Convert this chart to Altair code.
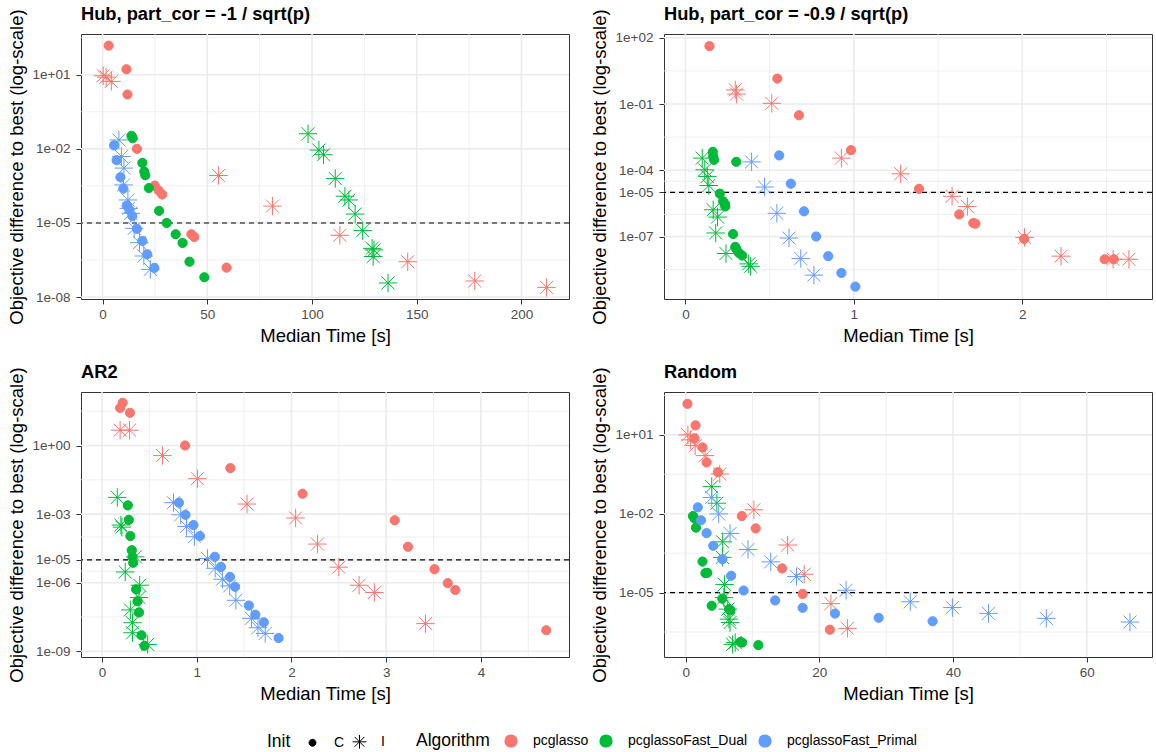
import altair as alt
import pandas as pd

FONT = "Liberation Sans"
ALGORITHMS = ["pcglasso", "pcglassoFast_Dual", "pcglassoFast_Primal"]
ALG_COLORS = ["#F8766D", "#00BA38", "#619CFF"]
INITS = ["C", "I"]
CIRCLE = "M0.5,0A0.5,0.5,0,1,1,-0.5,0A0.5,0.5,0,1,1,0.5,0Z"
ASTERISK = "M-1,0L1,0M0,-1L0,1M-0.707,-0.707L0.707,0.707M-0.707,0.707L0.707,-0.707"

# ---------------- Panel 1: Hub, part_cor = -1 / sqrt(p) ----------------
# times in seconds, objective differences as log10 values
HUB1_PC_C_T = [2.9, 11.4, 11.9, 16.4, 24.9, 26.8, 28.5, 42.4, 43.8, 59.2]
HUB1_PC_C_L = [2.18, 1.22, 0.2, -2.0, -3.49, -3.69, -3.85, -5.46, -5.57, -6.81]
HUB1_PC_I_T = [0.3, 1.7, 4.2, 55.4, 81.1, 113.3, 145.7, 177.7, 212.0]
HUB1_PC_I_L = [0.96, 0.9, 0.73, -3.08, -4.32, -5.5, -6.57, -7.35, -7.61]
HUB1_DU_C_T = [13.8, 14.4, 19.0, 19.9, 20.4, 22.1, 27.0, 30.6, 34.9, 38.2, 41.5, 48.6]
HUB1_DU_C_L = [-1.47, -1.57, -2.57, -2.92, -3.07, -3.59, -4.51, -5.0, -5.46, -5.81, -6.57, -7.2]
HUB1_DU_I_T = [98.1, 103.3, 105.5, 111.1, 115.7, 117.6, 120.6, 124.2, 128.7, 129.6, 129.2, 136.3]
HUB1_DU_I_L = [-1.39, -2.05, -2.24, -3.2, -3.92, -4.07, -4.64, -5.31, -6.03, -6.09, -6.36, -7.43]
HUB1_PR_C_T = [5.5, 6.7, 8.5, 9.9, 11.6, 12.8, 14.2, 16.4, 19.0, 21.3, 24.7]
HUB1_PR_C_L = [-1.86, -2.46, -3.15, -3.61, -4.3, -4.47, -4.72, -5.24, -5.73, -6.27, -6.82]
HUB1_PR_I_T = [7.8, 9.0, 10.2, 10.0, 12.1, 12.5, 13.5, 15.1, 17.6, 19.7, 22.8]
HUB1_PR_I_L = [-1.64, -2.31, -2.78, -3.46, -4.07, -4.41, -4.61, -5.22, -5.8, -6.34, -6.88]

# ---------------- Panel 2: Hub, part_cor = -0.9 / sqrt(p) ----------------
HUB2_PC_C_T = [0.143, 0.546, 0.674, 0.983, 1.387, 1.626, 1.709, 1.722, 2.011, 2.489, 2.543]
HUB2_PC_C_L = [1.62, 0.15, -1.51, -3.09, -4.84, -6.0, -6.39, -6.42, -7.11, -8.03, -8.03]
HUB2_PC_I_T = [0.296, 0.304, 0.513, 0.926, 1.278, 1.583, 1.674, 2.013, 2.23, 2.539, 2.633]
HUB2_PC_I_L = [-0.36, -0.55, -0.97, -3.45, -4.16, -5.18, -5.64, -7.04, -7.89, -8.03, -8.03]
HUB2_DU_C_T = [0.163, 0.165, 0.17, 0.302, 0.204, 0.224, 0.235, 0.237, 0.283, 0.296, 0.302, 0.317, 0.337]
HUB2_DU_C_L = [-3.17, -3.38, -3.53, -3.62, -5.06, -5.41, -5.53, -5.64, -6.89, -7.47, -7.56, -7.74, -7.86]
HUB2_DU_I_T = [0.1, 0.115, 0.13, 0.139, 0.165, 0.191, 0.18, 0.241, 0.376, 0.387]
HUB2_DU_I_L = [-3.45, -3.98, -4.28, -4.69, -5.79, -6.12, -6.84, -7.77, -8.24, -8.35]
HUB2_PR_C_T = [0.557, 0.626, 0.704, 0.776, 0.848, 0.926, 1.009]
HUB2_PR_C_L = [-3.33, -4.61, -5.86, -7.0, -7.89, -8.65, -9.27]
HUB2_PR_I_T = [0.393, 0.47, 0.543, 0.615, 0.685, 0.763]
HUB2_PR_I_L = [-3.62, -4.76, -5.95, -7.07, -8.0, -8.75]

# ---------------- Panel 3: AR2 ----------------
AR2_PC_C_T = [0.218, 0.191, 0.295, 0.877, 1.355, 2.117, 3.09, 3.23, 3.51, 3.65, 3.73, 4.69]
AR2_PC_C_L = [1.87, 1.64, 1.43, 0.0, -0.99, -2.11, -3.27, -4.43, -5.41, -6.02, -6.32, -8.08]
AR2_PC_I_T = [0.191, 0.291, 0.639, 1.007, 1.531, 2.044, 2.274, 2.5, 2.714, 2.875, 3.415]
AR2_PC_I_L = [0.67, 0.67, -0.44, -1.45, -2.56, -3.17, -4.31, -5.32, -6.11, -6.43, -7.79]
AR2_DU_C_T = [0.272, 0.283, 0.299, 0.314, 0.322, 0.329, 0.36, 0.375, 0.39, 0.417, 0.448]
AR2_DU_C_L = [-2.62, -3.25, -3.96, -4.58, -4.88, -5.13, -6.29, -6.81, -7.3, -8.3, -8.76]
AR2_DU_I_T = [0.161, 0.199, 0.21, 0.352, 0.245, 0.398, 0.39, 0.299, 0.322, 0.322, 0.482]
AR2_DU_I_L = [-2.27, -3.48, -3.57, -4.87, -5.53, -6.11, -6.65, -7.19, -7.75, -8.19, -8.7]
AR2_PR_C_T = [0.812, 0.881, 0.965, 1.034, 1.191, 1.256, 1.351, 1.405, 1.55, 1.619, 1.708, 1.864]
AR2_PR_C_L = [-2.5, -3.03, -3.48, -3.96, -4.87, -5.31, -5.75, -6.18, -7.0, -7.4, -7.73, -8.42]
AR2_PR_I_T = [0.754, 0.831, 0.892, 0.976, 1.114, 1.195, 1.271, 1.348, 1.413, 1.577, 1.646, 1.723]
AR2_PR_I_L = [-2.5, -3.03, -3.54, -3.99, -4.94, -5.37, -5.85, -6.14, -6.77, -7.56, -7.97, -8.22]

# ---------------- Panel 4: Random ----------------
RND_PC_C_T = [0.27, 1.48, 1.32, 2.52, 3.13, 4.83, 8.4, 10.48, 14.43, 17.5, 21.57]
RND_PC_C_L = [2.18, 1.36, 0.87, 0.52, -0.05, -0.42, -2.09, -2.56, -4.08, -5.05, -6.41]
RND_PC_I_T = [0.33, 0.71, 1.43, 2.91, 5.1, 10.2, 15.26, 17.73, 21.73, 24.2]
RND_PC_I_L = [1.0, 0.81, 0.59, 0.21, -0.49, -1.85, -3.19, -4.3, -5.42, -6.36]
RND_DU_C_T = [1.1, 1.32, 1.54, 2.52, 2.96, 3.24, 5.49, 3.9, 6.48, 6.7, 8.18, 8.45, 10.87]
RND_DU_C_L = [-2.09, -2.18, -2.53, -3.82, -4.26, -4.25, -5.23, -5.5, -5.63, -5.67, -6.88, -6.9, -7.0]
RND_DU_I_T = [3.9, 4.67, 5.54, 5.49, 5.82, 5.71, 6.31, 6.48, 6.64, 7.03, 7.41]
RND_DU_I_L = [-0.97, -1.6, -3.07, -3.66, -4.69, -5.19, -5.63, -6.01, -6.14, -6.97, -6.9]
RND_PR_C_T = [1.81, 2.3, 3.13, 4.12, 5.49, 6.81, 8.67, 13.39, 17.5, 22.34, 28.87, 36.94]
RND_PR_C_L = [-1.76, -2.25, -2.74, -3.22, -3.73, -4.36, -4.92, -5.3, -5.58, -5.8, -5.96, -6.09]
RND_PR_I_T = [3.9, 4.94, 6.64, 9.33, 12.73, 16.58, 24.0, 33.6, 39.9, 45.3, 53.95, 66.46]
RND_PR_I_L = [-1.38, -2.01, -2.75, -3.36, -3.83, -4.39, -4.91, -5.35, -5.57, -5.79, -5.98, -6.12]

# ---------------- axis breaks (log10 for y) ----------------
P1_XTICKS = [0, 50, 100, 150, 200]; P1_XMINOR = [25, 75, 125, 175]
P1_YTICKS = [1, -2, -5, -8]; P1_YMINOR = [2.5, -0.5, -3.5, -6.5]
P2_XTICKS = [0, 1, 2]; P2_XMINOR = [0.5, 1.5, 2.5]
P2_YTICKS = [2, -1, -4, -5, -7]; P2_YMINOR = [0.5, -2.5, -4.5, -6, -8.5]
P3_XTICKS = [0, 1, 2, 3, 4]; P3_XMINOR = [0.5, 1.5, 2.5, 3.5, 4.5]
P3_YTICKS = [0, -3, -5, -6, -9]; P3_YMINOR = [1.5, -1.5, -4, -5.5, -7.5]
P4_XTICKS = [0, 20, 40, 60]; P4_XMINOR = [10, 30, 50]
P4_YTICKS = [1, -2, -5]; P4_YMINOR = [2.5, -0.5, -3.5, -6.5]

P1_XDOM = [-10.3, 222.7]; P1_YDOM = [-8.08, 2.65]
P2_XDOM = [-0.127, 2.77]; P2_YDOM = [-9.83, 2.17]
P3_XDOM = [-0.222, 4.93]; P3_YDOM = [-9.25, 2.34]
P4_XDOM = [-3.24, 69.76]; P4_YDOM = [-7.45, 2.63]

THRESHOLD = 1e-5
GRID = "#EBEBEB"
W, H = 488, 265


def frame(series):
    rows = []
    for alg, init, ts, ls in series:
        for t, l in zip(ts, ls):
            rows.append({"Algorithm": alg, "Init": init, "time": t, "diff": 10 ** l})
    return pd.DataFrame(rows)


LABEL_EXPR = ("'1e' + (round(log(datum.value)/LN10) >= 0 ? '+' : '-') + "
              "(abs(round(log(datum.value)/LN10)) < 10 ? '0' : '') + abs(round(log(datum.value)/LN10))")

alg_legend = alt.Legend(
    title="Algorithm", orient="none", legendX=335, legendY=700, direction="horizontal",
    titleOrient="left", symbolType="circle", symbolSize=175, labelFontSize=14,
    titleFontSize=17.5, titleFontWeight="normal", labelOffset=15, columnPadding=10,
    titlePadding=14, symbolStrokeWidth=0, titleBaseline="middle", labelColor="black",
    titleColor="black",
)
init_legend = alt.Legend(
    title="Init", orient="none", legendX=186, legendY=700, direction="horizontal",
    titleOrient="left", symbolSize=190, labelFontSize=14, titleFontSize=17.5,
    titleFontWeight="normal", labelOffset=14, columnPadding=5, titlePadding=14,
    symbolFillColor="black", symbolStrokeColor="black", symbolStrokeWidth=1,
    titleBaseline="middle", labelColor="black", titleColor="black",
)


def panel(title, df, xdom, xt, xm, ydom, yt, ym):
    xs = alt.Scale(domain=xdom, nice=False, zero=False)
    ys = alt.Scale(type="log", domain=[10 ** ydom[0], 10 ** ydom[1]], nice=False)
    xa = alt.Axis(values=xt, title="Median Time [s]", grid=False)
    ya = alt.Axis(values=[10 ** v for v in yt], title="Objective difference to best (log-scale)",
                  grid=False, labelExpr=LABEL_EXPR)
    X = alt.X("time:Q", scale=xs, axis=xa)
    Y = alt.Y("diff:Q", scale=ys, axis=ya)

    vminor = alt.Chart(pd.DataFrame({"time": xm})).mark_rule(color=GRID, strokeWidth=0.8).encode(x=X)
    hminor = alt.Chart(pd.DataFrame({"diff": [10 ** v for v in ym]})).mark_rule(color=GRID, strokeWidth=0.8).encode(y=Y)
    vmajor = alt.Chart(pd.DataFrame({"time": xt})).mark_rule(color=GRID, strokeWidth=1.6).encode(x=X)
    hmajor = alt.Chart(pd.DataFrame({"diff": [10 ** v for v in yt]})).mark_rule(color=GRID, strokeWidth=1.6).encode(y=Y)
    dash = alt.Chart(pd.DataFrame({"diff": [THRESHOLD]})).mark_rule(
        color="black", strokeWidth=1.1, strokeDash=[5, 4]).encode(y=Y)
    pts = alt.Chart(df).mark_point(filled=False, opacity=1, strokeWidth=1, size=340).encode(
        x=X, y=Y,
        fill=alt.Fill("Algorithm:N", scale=alt.Scale(domain=ALGORITHMS, range=ALG_COLORS), legend=alg_legend),
        stroke=alt.Stroke("Algorithm:N", scale=alt.Scale(domain=ALGORITHMS, range=ALG_COLORS), legend=alg_legend),
        shape=alt.Shape("Init:N", scale=alt.Scale(domain=INITS, range=[CIRCLE, ASTERISK]), legend=init_legend),
    )
    return alt.layer(vminor, hminor, vmajor, hmajor, dash, pts).properties(
        width=W, height=H,
        title=alt.TitleParams(title, anchor="start", frame="group", fontSize=18.3, fontWeight="bold",
                              baseline="alphabetic", offset=-29.5, color="black"),
    )


df1 = frame([
    ("pcglasso", "C", HUB1_PC_C_T, HUB1_PC_C_L), ("pcglasso", "I", HUB1_PC_I_T, HUB1_PC_I_L),
    ("pcglassoFast_Dual", "C", HUB1_DU_C_T, HUB1_DU_C_L), ("pcglassoFast_Dual", "I", HUB1_DU_I_T, HUB1_DU_I_L),
    ("pcglassoFast_Primal", "C", HUB1_PR_C_T, HUB1_PR_C_L), ("pcglassoFast_Primal", "I", HUB1_PR_I_T, HUB1_PR_I_L),
])
df2 = frame([
    ("pcglasso", "C", HUB2_PC_C_T, HUB2_PC_C_L), ("pcglasso", "I", HUB2_PC_I_T, HUB2_PC_I_L),
    ("pcglassoFast_Dual", "C", HUB2_DU_C_T, HUB2_DU_C_L), ("pcglassoFast_Dual", "I", HUB2_DU_I_T, HUB2_DU_I_L),
    ("pcglassoFast_Primal", "C", HUB2_PR_C_T, HUB2_PR_C_L), ("pcglassoFast_Primal", "I", HUB2_PR_I_T, HUB2_PR_I_L),
])
df3 = frame([
    ("pcglasso", "C", AR2_PC_C_T, AR2_PC_C_L), ("pcglasso", "I", AR2_PC_I_T, AR2_PC_I_L),
    ("pcglassoFast_Dual", "C", AR2_DU_C_T, AR2_DU_C_L), ("pcglassoFast_Dual", "I", AR2_DU_I_T, AR2_DU_I_L),
    ("pcglassoFast_Primal", "C", AR2_PR_C_T, AR2_PR_C_L), ("pcglassoFast_Primal", "I", AR2_PR_I_T, AR2_PR_I_L),
])
df4 = frame([
    ("pcglasso", "C", RND_PC_C_T, RND_PC_C_L), ("pcglasso", "I", RND_PC_I_T, RND_PC_I_L),
    ("pcglassoFast_Dual", "C", RND_DU_C_T, RND_DU_C_L), ("pcglassoFast_Dual", "I", RND_DU_I_T, RND_DU_I_L),
    ("pcglassoFast_Primal", "C", RND_PR_C_T, RND_PR_C_L), ("pcglassoFast_Primal", "I", RND_PR_I_T, RND_PR_I_L),
])

p1 = panel("Hub, part_cor = -1 / sqrt(p)", df1, P1_XDOM, P1_XTICKS, P1_XMINOR, P1_YDOM, P1_YTICKS, P1_YMINOR)
p2 = panel("Hub, part_cor = -0.9 / sqrt(p)", df2, P2_XDOM, P2_XTICKS, P2_XMINOR, P2_YDOM, P2_YTICKS, P2_YMINOR)
p3 = panel("AR2", df3, P3_XDOM, P3_XTICKS, P3_XMINOR, P3_YDOM, P3_YTICKS, P3_YMINOR)
p4 = panel("Random", df4, P4_XDOM, P4_XTICKS, P4_XMINOR, P4_YDOM, P4_YTICKS, P4_YMINOR)

chart = alt.vconcat(
    alt.hconcat(p1, p2, spacing=18),
    alt.hconcat(p3, p4, spacing=18),
    spacing=16,
).configure(
    font=FONT, padding={"left": 6, "top": 4, "right": 0, "bottom": 0}, background="white",
).configure_view(
    stroke="#333333", strokeWidth=1,
).configure_axis(
    labelFont=FONT, titleFont=FONT, labelFontSize=13.5, labelColor="#4D4D4D",
    titleFontSize=18.5, titleColor="black", titleFontWeight="normal",
    tickColor="#333333", tickSize=5, tickWidth=1, domain=False, labelPadding=3,
).configure_axisY(
    titlePadding=8, minExtent=47, maxExtent=47, labelPadding=6,
).configure_axisX(
    titlePadding=6,
).configure_legend(
    labelFont=FONT, titleFont=FONT,
)

chart.save("out.html", embed_options={"renderer": "svg", "actions": False})
